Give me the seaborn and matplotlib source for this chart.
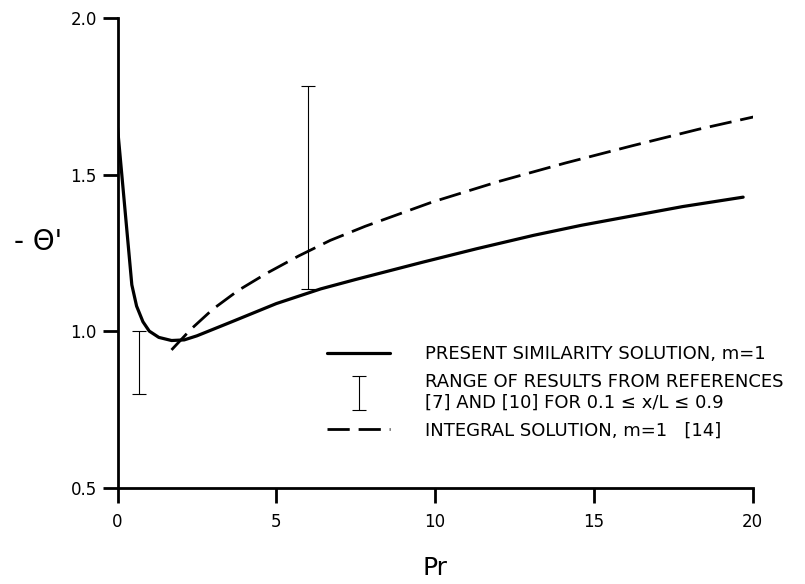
import numpy as np
import pandas as pd
import seaborn as sns
import matplotlib
matplotlib.use("Agg")
import matplotlib.pyplot as plt
from matplotlib.lines import Line2D
from matplotlib.container import ErrorbarContainer
from matplotlib.legend_handler import HandlerErrorbar

# present similarity solution, m=1
pr_sim = [0.0, 0.45, 0.6, 0.8, 1.0, 1.3, 1.7, 2.1, 2.5, 3.6, 5.0, 6.4, 7.5, 9.6,
          11.3, 13.1, 14.6, 16.2, 17.8, 19.7]
theta_sim = [1.65, 1.148, 1.08, 1.03, 1.0, 0.98, 0.970, 0.972, 0.985, 1.03, 1.088,
             1.135, 1.165, 1.22, 1.263, 1.306, 1.338, 1.368, 1.398, 1.428]

# integral solution, m=1 [14]
pr_int = [1.7, 2.3, 3.0, 3.8, 4.7, 5.7, 6.7, 7.8, 9.9, 12.0, 14.1, 16.2, 18.3, 20.5]
theta_int = [0.94, 1.005, 1.07, 1.13, 1.185, 1.24, 1.29, 1.335, 1.412, 1.478, 1.537,
             1.592, 1.645, 1.695]

# ranges from references [7] and [10]
pr_range = [0.68, 6.0]
range_lo = [0.80, 1.135]
range_hi = [1.00, 1.783]

df_sim = pd.DataFrame({"Pr": pr_sim, "theta": theta_sim})
df_int = pd.DataFrame({"Pr": pr_int, "theta": theta_int})

sns.set_style("ticks")
plt.rcParams["font.family"] = ["DejaVu Sans"]
plt.rcParams["text.color"] = "black"
plt.rcParams["axes.labelcolor"] = "black"
plt.rcParams["xtick.color"] = "black"
plt.rcParams["ytick.color"] = "black"

fig = plt.figure(figsize=(8.05, 5.84), dpi=100)
ax = fig.add_axes([0.146, 0.165, 0.789, 0.804])

sns.lineplot(data=df_sim, x="Pr", y="theta", ax=ax, color="black", linewidth=2.3, sort=False)
sns.lineplot(data=df_int, x="Pr", y="theta", ax=ax, color="black", linewidth=2.0, sort=False)
ax.lines[-1].set_dashes((8, 3.2))

lo = np.array(range_lo)
hi = np.array(range_hi)
mid = (lo + hi) / 2
eb = ax.errorbar(pr_range, mid, yerr=(hi - lo) / 2, fmt="none", ecolor="black",
                 elinewidth=0.8, capsize=5, capthick=0.8)

ax.set_xlim(0, 20)
ax.set_ylim(0.5, 2.0)
ax.set_xticks([0, 5, 10, 15, 20])
ax.set_yticks([0.5, 1.0, 1.5, 2.0])
ax.set_yticklabels(["0.5", "1.0", "1.5", "2.0"])
ax.tick_params(axis="both", length=11, width=2, labelsize=12, color="black", labelcolor="black")
ax.tick_params(axis="x", pad=7)
ax.tick_params(axis="y", pad=4)
sns.despine(ax=ax)
for s in ["left", "bottom"]:
    ax.spines[s].set_linewidth(2)
    ax.spines[s].set_color("black")

ax.set_xlabel("Pr", fontsize=18, color="black")
ax.xaxis.set_label_coords(0.5, -0.171)
ax.xaxis.label.set_va("center")
ax.set_ylabel("- Θ'", fontsize=20, rotation=0, color="black")
ax.yaxis.set_label_coords(-0.125, 0.523)
ax.yaxis.label.set_va("center")
ax.yaxis.label.set_ha("center")

handles = [Line2D([], [], color="black", linewidth=2.3), eb,
           Line2D([], [], color="black", linewidth=2.0, dashes=(8, 3.2))]
labels = ["PRESENT SIMILARITY SOLUTION, m=1",
          "RANGE OF RESULTS FROM REFERENCES\n[7] AND [10] FOR 0.1 ≤ x/L ≤ 0.9",
          "INTEGRAL SOLUTION, m=1   [14]"]
leg = ax.legend(handles, labels, loc="upper left", bbox_to_anchor=(327 / 805, 1 - 345 / 584),
                bbox_transform=fig.transFigure, frameon=False, fontsize=13,
                handlelength=3.5, handletextpad=1.9, labelspacing=0.55, borderpad=0,
                borderaxespad=0,
                handler_map={ErrorbarContainer: HandlerErrorbar(xerr_size=0.5, yerr_size=0.95)})
for t in leg.get_texts():
    t.set_color("black")

plt.savefig("out.png", dpi=100)
